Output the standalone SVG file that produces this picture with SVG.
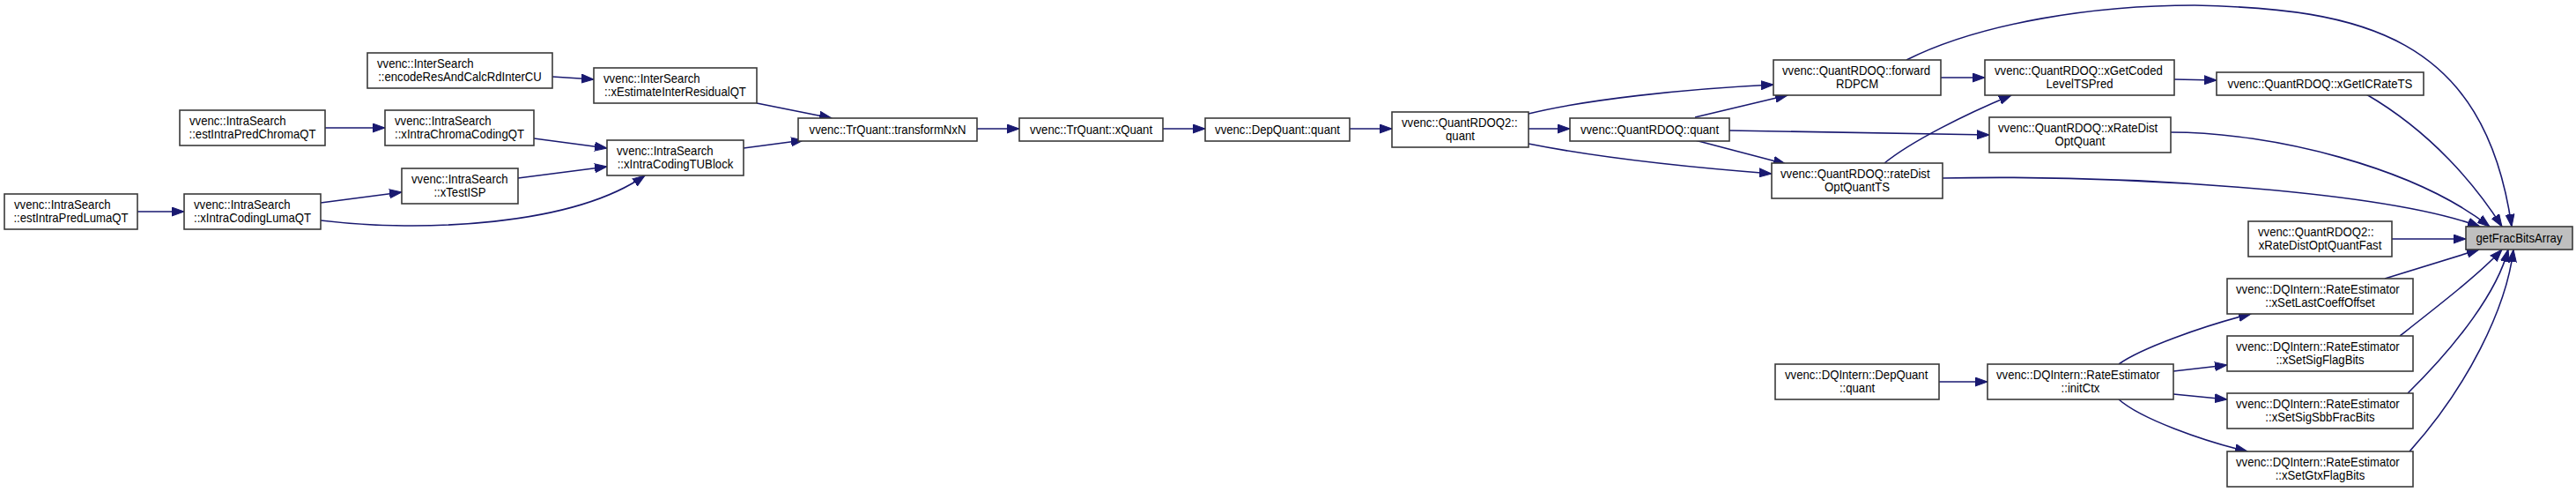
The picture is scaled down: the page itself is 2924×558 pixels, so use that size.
<svg xmlns="http://www.w3.org/2000/svg" width="2924" height="558" viewBox="0 0 2924 558">
<defs>
<style>
.n rect{fill:#ffffff;stroke:#3a3a3a;stroke-width:1.6}
.n.hl rect{fill:#bfbfbf}
.n text{font-family:"Liberation Sans",Arial,sans-serif;font-size:14px;fill:#000}
.n text.c{text-anchor:middle}
.e path{fill:none;stroke:#191970;stroke-width:1.6}
</style>
<marker id="a" markerUnits="userSpaceOnUse" markerWidth="15" markerHeight="11" refX="14" refY="5.5" orient="auto" viewBox="0 0 15 11">
<path d="M0,0.5 L14,5.5 L0,10.5 z" fill="#191970" stroke="#191970" stroke-width="1"/>
</marker>
</defs>
<rect width="2924" height="558" fill="#ffffff"/>
<g id="connectors" class="e">
<path marker-end="url(#a)" d="M627,87 L674,90"/>
<path marker-end="url(#a)" d="M369,145 L437,145"/>
<path marker-end="url(#a)" d="M606,157 L689,168"/>
<path marker-end="url(#a)" d="M588,202 L689,189"/>
<path marker-end="url(#a)" d="M156,240 L209,240"/>
<path marker-end="url(#a)" d="M364,230 L456,218"/>
<path marker-end="url(#a)" d="M364,250 C480,264 650,256 732,199"/>
<path marker-end="url(#a)" d="M859,117 L944,134"/>
<path marker-end="url(#a)" d="M844,168 L912,159"/>
<path marker-end="url(#a)" d="M1109,146 L1157,146"/>
<path marker-end="url(#a)" d="M1320,146 L1368,146"/>
<path marker-end="url(#a)" d="M1532,146 L1580,146"/>
<path marker-end="url(#a)" d="M1735,129 C1800,113 1910,101 2013,96"/>
<path marker-end="url(#a)" d="M1735,146 L1782,146"/>
<path marker-end="url(#a)" d="M1735,163 C1820,180 1920,190 2011,197"/>
<path marker-end="url(#a)" d="M1924,133 L2029,108"/>
<path marker-end="url(#a)" d="M1963,148 L2258,153"/>
<path marker-end="url(#a)" d="M1924,159 L2027,186"/>
<path marker-end="url(#a)" d="M2203,88 L2253,88"/>
<path marker-end="url(#a)" d="M2164,68 C2250,25 2380,6 2491,6 C2680,10 2820,40 2851,257"/>
<path marker-end="url(#a)" d="M2468,90 L2516,91"/>
<path marker-end="url(#a)" d="M2686,107 C2760,150 2810,210 2840,257"/>
<path marker-end="url(#a)" d="M2464,150 C2580,150 2740,190 2826,257"/>
<path marker-end="url(#a)" d="M2139,185 C2170,160 2230,130 2283,108"/>
<path marker-end="url(#a)" d="M2205,202 C2400,198 2700,215 2815,257"/>
<path marker-end="url(#a)" d="M2715,271 L2799,271"/>
<path marker-end="url(#a)" d="M2707,316 L2814,283"/>
<path marker-end="url(#a)" d="M2724,381 C2770,345 2815,310 2840,283"/>
<path marker-end="url(#a)" d="M2733,446 C2790,390 2835,330 2847,283"/>
<path marker-end="url(#a)" d="M2735,512 C2800,440 2845,350 2853,283"/>
<path marker-end="url(#a)" d="M2201,433 L2256,433"/>
<path marker-end="url(#a)" d="M2405,413 C2430,395 2500,370 2555,356"/>
<path marker-end="url(#a)" d="M2467,421 L2528,414"/>
<path marker-end="url(#a)" d="M2467,447 L2528,453"/>
<path marker-end="url(#a)" d="M2405,453 C2430,475 2500,500 2551,512"/>
</g>
<g id="n1" class="n"><rect x="5" y="220" width="151" height="40"/><text transform="translate(16,236.5) scale(0.94,1)">vvenc::IntraSearch</text><text class="c" transform="translate(80.5,251.5) scale(0.94,1)">::estIntraPredLumaQT</text></g>
<g id="n2" class="n"><rect x="209" y="220" width="155" height="40"/><text transform="translate(220,236.5) scale(0.94,1)">vvenc::IntraSearch</text><text class="c" transform="translate(286.5,251.5) scale(0.94,1)">::xIntraCodingLumaQT</text></g>
<g id="n3" class="n"><rect x="204" y="125" width="165" height="40"/><text transform="translate(215,141.5) scale(0.94,1)">vvenc::IntraSearch</text><text class="c" transform="translate(286.5,156.5) scale(0.94,1)">::estIntraPredChromaQT</text></g>
<g id="n4" class="n"><rect x="437" y="125" width="169" height="40"/><text transform="translate(448,141.5) scale(0.94,1)">vvenc::IntraSearch</text><text class="c" transform="translate(521.5,156.5) scale(0.94,1)">::xIntraChromaCodingQT</text></g>
<g id="n5" class="n"><rect x="456" y="191" width="132" height="40"/><text transform="translate(467,207.5) scale(0.94,1)">vvenc::IntraSearch</text><text class="c" transform="translate(522,222.5) scale(0.94,1)">::xTestISP</text></g>
<g id="n6" class="n"><rect x="417" y="60" width="210" height="40"/><text transform="translate(428,76.5) scale(0.94,1)">vvenc::InterSearch</text><text class="c" transform="translate(522,91.5) scale(0.94,1)">::encodeResAndCalcRdInterCU</text></g>
<g id="n7" class="n"><rect x="674" y="77" width="185" height="40"/><text transform="translate(685,93.5) scale(0.94,1)">vvenc::InterSearch</text><text class="c" transform="translate(766.5,108.5) scale(0.94,1)">::xEstimateInterResidualQT</text></g>
<g id="n8" class="n"><rect x="689" y="159" width="155" height="40"/><text transform="translate(700,175.5) scale(0.94,1)">vvenc::IntraSearch</text><text class="c" transform="translate(766.5,190.5) scale(0.94,1)">::xIntraCodingTUBlock</text></g>
<g id="n9" class="n"><rect x="906" y="134" width="203" height="26"/><text class="c" transform="translate(1007.5,151.5) scale(0.94,1)">vvenc::TrQuant::transformNxN</text></g>
<g id="n10" class="n"><rect x="1157" y="134" width="163" height="26"/><text class="c" transform="translate(1238.5,151.5) scale(0.94,1)">vvenc::TrQuant::xQuant</text></g>
<g id="n11" class="n"><rect x="1368" y="134" width="164" height="26"/><text class="c" transform="translate(1450,151.5) scale(0.94,1)">vvenc::DepQuant::quant</text></g>
<g id="n12" class="n"><rect x="1580" y="127" width="155" height="40"/><text transform="translate(1591,143.5) scale(0.94,1)">vvenc::QuantRDOQ2::</text><text class="c" transform="translate(1657.5,158.5) scale(0.94,1)">quant</text></g>
<g id="n13" class="n"><rect x="1782" y="134" width="181" height="26"/><text class="c" transform="translate(1872.5,151.5) scale(0.94,1)">vvenc::QuantRDOQ::quant</text></g>
<g id="n14" class="n"><rect x="2013" y="68" width="190" height="40"/><text transform="translate(2023,84.5) scale(0.94,1)">vvenc::QuantRDOQ::forward</text><text class="c" transform="translate(2108,99.5) scale(0.94,1)">RDPCM</text></g>
<g id="n15" class="n"><rect x="2011" y="185" width="194" height="40"/><text transform="translate(2021,201.5) scale(0.94,1)">vvenc::QuantRDOQ::rateDist</text><text class="c" transform="translate(2108,216.5) scale(0.94,1)">OptQuantTS</text></g>
<g id="n16" class="n"><rect x="2253" y="68" width="215" height="40"/><text transform="translate(2264,84.5) scale(0.94,1)">vvenc::QuantRDOQ::xGetCoded</text><text class="c" transform="translate(2360.5,99.5) scale(0.94,1)">LevelTSPred</text></g>
<g id="n17" class="n"><rect x="2258" y="133" width="206" height="40"/><text transform="translate(2268,149.5) scale(0.94,1)">vvenc::QuantRDOQ::xRateDist</text><text class="c" transform="translate(2361,164.5) scale(0.94,1)">OptQuant</text></g>
<g id="n18" class="n"><rect x="2516" y="82" width="235" height="26"/><text class="c" transform="translate(2633.5,99.5) scale(0.94,1)">vvenc::QuantRDOQ::xGetICRateTS</text></g>
<g id="n19" class="n"><rect x="2552" y="251" width="163" height="40"/><text transform="translate(2563,267.5) scale(0.94,1)">vvenc::QuantRDOQ2::</text><text class="c" transform="translate(2633.5,282.5) scale(0.94,1)">xRateDistOptQuantFast</text></g>
<g id="n20" class="n hl"><rect x="2799" y="257" width="121" height="26"/><text class="c" transform="translate(2859.5,274.5) scale(0.94,1)">getFracBitsArray</text></g>
<g id="n21" class="n"><rect x="2015" y="413" width="186" height="40"/><text transform="translate(2026,429.5) scale(0.94,1)">vvenc::DQIntern::DepQuant</text><text class="c" transform="translate(2108,444.5) scale(0.94,1)">::quant</text></g>
<g id="n22" class="n"><rect x="2256" y="413" width="211" height="40"/><text transform="translate(2266,429.5) scale(0.94,1)">vvenc::DQIntern::RateEstimator</text><text class="c" transform="translate(2361.5,444.5) scale(0.94,1)">::initCtx</text></g>
<g id="n23" class="n"><rect x="2528" y="316" width="211" height="40"/><text transform="translate(2538,332.5) scale(0.94,1)">vvenc::DQIntern::RateEstimator</text><text class="c" transform="translate(2633.5,347.5) scale(0.94,1)">::xSetLastCoeffOffset</text></g>
<g id="n24" class="n"><rect x="2528" y="381" width="211" height="40"/><text transform="translate(2538,397.5) scale(0.94,1)">vvenc::DQIntern::RateEstimator</text><text class="c" transform="translate(2633.5,412.5) scale(0.94,1)">::xSetSigFlagBits</text></g>
<g id="n25" class="n"><rect x="2528" y="446" width="211" height="40"/><text transform="translate(2538,462.5) scale(0.94,1)">vvenc::DQIntern::RateEstimator</text><text class="c" transform="translate(2633.5,477.5) scale(0.94,1)">::xSetSigSbbFracBits</text></g>
<g id="n26" class="n"><rect x="2528" y="512" width="211" height="40"/><text transform="translate(2538,528.5) scale(0.94,1)">vvenc::DQIntern::RateEstimator</text><text class="c" transform="translate(2633.5,543.5) scale(0.94,1)">::xSetGtxFlagBits</text></g>
</svg>
